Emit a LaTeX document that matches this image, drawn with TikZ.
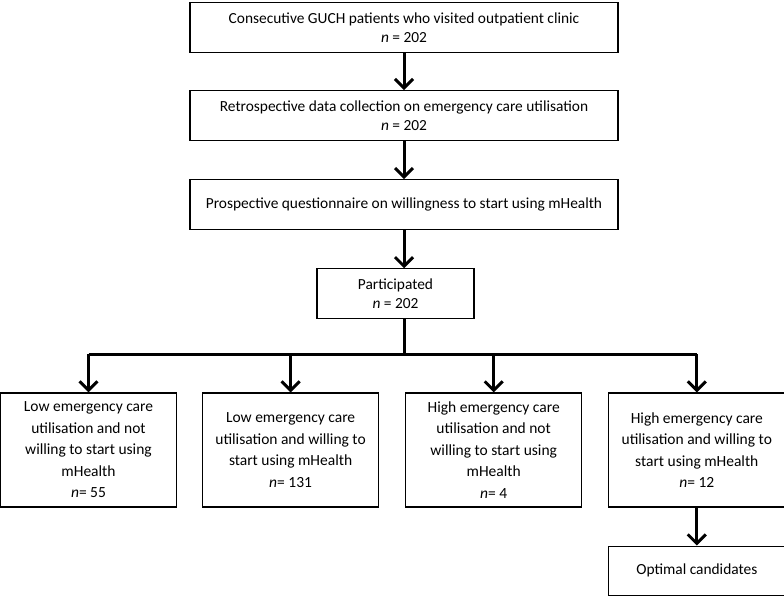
\documentclass[tikz,border=0pt]{standalone}
\usepackage{fontspec}
\setmainfont{Carlito}
\usepackage{tikz}
\usetikzlibrary{positioning, arrows.meta}

\tikzset{
  box/.style={rectangle, draw, line width=1.1pt, align=center, inner sep=0pt, minimum width=428pt, minimum height=50pt},
  groupbox/.style={box, minimum width=176pt, minimum height=114pt, font=\fontsize{15.5}{21.5}\selectfont},
  flow/.style={line width=3pt, -{Straight Barb[length=9pt, width=18pt, line width=3pt]}},
  splitline/.style={line width=3pt}
}

\begin{document}
\begin{tikzpicture}[x=1pt, y=1pt, node distance=37pt, font=\fontsize{15.4}{19.5}\selectfont]
  \useasboundingbox (0,0) rectangle (784,-596);

  % Fasi di raccolta
  \node[box] (guch) at (404,-27.5) {Consecutive GUCH patients who visited outpatient clinic\\ \textit{n} = 202};
  \node[box, below=37pt of guch] (retro) {Retrospective data collection on emergency care utilisation\\ \textit{n} = 202};
  \node[box, below=38pt of retro] (quest) {Prospective questionnaire on willingness to start using mHealth};
  \node[box, below=38pt of quest, xshift=-8.5pt, minimum width=157pt] (part) {Participated\\ \textit{n} = 202};

  % Gruppi
  \node[groupbox] (lowno) at (88.5,-450) {Low emergency care\\ utilisation and not\\ willing to start using\\ mHealth\\ \textit{n}= 55};
  \node[groupbox, right=25pt of lowno] (lowyes) {Low emergency care\\ utilisation and willing to\\ start using mHealth\\ \textit{n}= 131};
  \node[groupbox, right=26pt of lowyes] (highno) {High emergency care\\ utilisation and not\\ willing to start using\\ mHealth\\ \textit{n}= 4};
  \node[groupbox, right=26pt of highno] (highyes) {High emergency care\\ utilisation and willing to\\ start using mHealth\\ \textit{n}= 12};
  \node[box, below=38pt of highyes, minimum width=176pt, minimum height=49pt] (optimal) {Optimal candidates};

  % Frecce
  \draw[flow] (guch) -- (retro);
  \draw[flow] (retro) -- (quest);
  \draw[flow] (quest) -- (quest |- part.north);
  \coordinate (split) at (404,-354);
  \draw[splitline] (quest |- part.south) -- (split);
  \draw[splitline] (lowno |- split) -- (highyes |- split);
  \foreach \g in {lowno, lowyes, highno, highyes}
    \draw[flow] (\g |- split) -- (\g);
  \draw[flow] (highyes) -- (optimal);
\end{tikzpicture}
\end{document}
